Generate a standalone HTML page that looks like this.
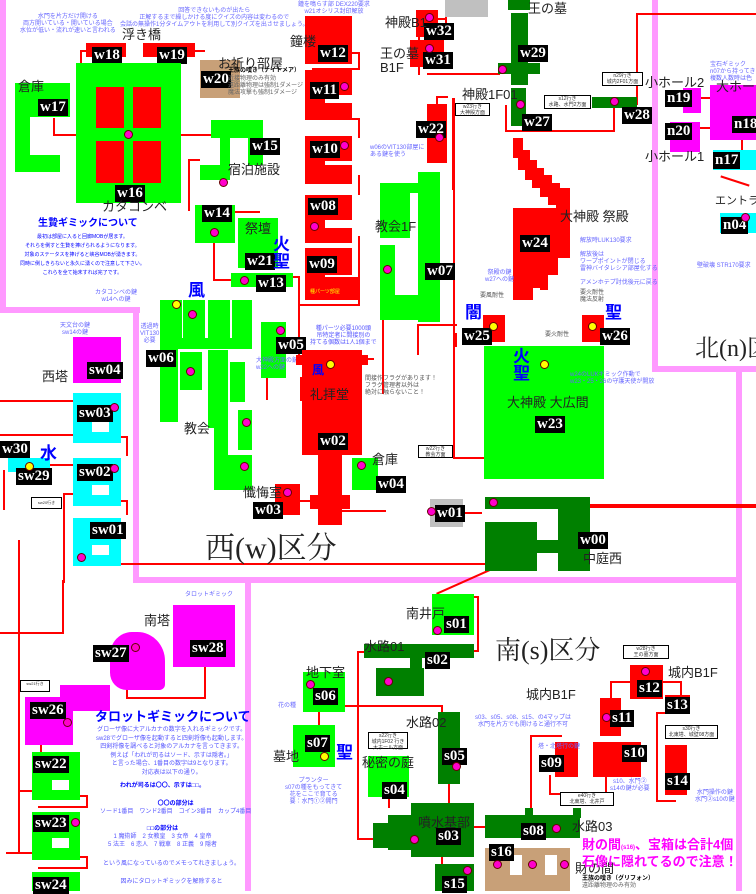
<!DOCTYPE html>
<html><head><meta charset="utf-8"><style>
body{margin:0;width:756px;height:891px;background:#fff;position:relative;overflow:hidden;font-family:"Liberation Sans","Noto Sans CJK JP",sans-serif}
div{position:absolute;box-sizing:border-box}
.r{background:#ff0000}.g{background:#00ff00}.d{background:#008000}.c{background:#00ffff}.m{background:#ff00ff}.t{background:#c8a078}.y{background:#c0c0c0}
.p{background:#ff99ff}
.l{background:#000;color:#fff;font:bold 15px "Liberation Serif",serif;padding:0 2px;line-height:17px;white-space:nowrap}
.h{background:#ff0000}
.k{color:#222;font-size:13px;white-space:nowrap;line-height:14px}
.b{color:#66f;font-size:6px;line-height:7px;white-space:nowrap;text-align:center}
.dot{width:9px;height:9px;border-radius:50%;background:#f0c;border:1px solid #600}
.sg{color:#00f;font-size:17px;font-weight:bold;line-height:17px}
.box{border:1px solid #000;background:#fff;font-size:5px;color:#333;text-align:center;line-height:6px}
</style></head><body>
<!-- pink borders -->
<div class="p" style="left:0;top:0;width:6px;height:310px"></div>
<div class="p" style="left:0;top:307px;width:140px;height:6px"></div>
<div class="p" style="left:133px;top:307px;width:6px;height:276px"></div>
<div class="p" style="left:133px;top:577px;width:608px;height:6px"></div>
<div class="p" style="left:245px;top:580px;width:6px;height:311px"></div>
<div class="p" style="left:652px;top:0;width:6px;height:372px"></div>
<div class="p" style="left:652px;top:366px;width:104px;height:6px"></div>
<div class="p" style="left:736px;top:370px;width:6px;height:521px"></div>

<!-- red connectors -->
<div class="h" style="left:80px;top:50px;width:2px;height:14px"></div>
<div class="h" style="left:80px;top:50px;width:8px;height:2px"></div>
<div class="h" style="left:195px;top:50px;width:10px;height:2px"></div>
<div class="h" style="left:53px;top:134px;width:23px;height:2px"></div>
<div class="h" style="left:53px;top:118px;width:2px;height:18px"></div>
<div class="h" style="left:181px;top:134px;width:30px;height:2px"></div>
<div class="h" style="left:188px;top:159px;width:2px;height:52px"></div>
<div class="h" style="left:188px;top:159px;width:12px;height:2px"></div>
<div class="h" style="left:213px;top:240px;width:2px;height:40px"></div>
<div class="h" style="left:213px;top:279px;width:20px;height:2px"></div>
<div class="h" style="left:235px;top:211px;width:25px;height:2px"></div>
<div class="h" style="left:352px;top:52px;width:8px;height:2px"></div>
<div class="h" style="left:358px;top:52px;width:2px;height:18px"></div>
<div class="h" style="left:312px;top:68px;width:48px;height:2px"></div>
<div class="h" style="left:352px;top:118px;width:8px;height:2px"></div>
<div class="h" style="left:358px;top:118px;width:2px;height:20px"></div>
<div class="h" style="left:358px;top:175px;width:2px;height:20px"></div>
<div class="h" style="left:358px;top:236px;width:2px;height:70px"></div>
<div class="h" style="left:298px;top:276px;width:2px;height:88px"></div>
<div class="h" style="left:292px;top:276px;width:8px;height:2px"></div>
<div class="h" style="left:300px;top:304px;width:60px;height:2px"></div>
<div class="h" style="left:418px;top:17px;width:2px;height:58px"></div>
<div class="h" style="left:427px;top:73px;width:73px;height:2px"></div>
<div class="h" style="left:445px;top:0;width:2px;height:24px"></div>
<div class="h" style="left:437px;top:18px;width:10px;height:2px"></div>
<div class="h" style="left:436px;top:96px;width:2px;height:10px"></div>
<div class="h" style="left:436px;top:96px;width:12px;height:2px"></div>
<div class="h" style="left:452px;top:98px;width:2px;height:80px"></div>
<div class="h" style="left:452px;top:176px;width:2px;height:14px"></div>
<div class="h" style="left:453px;top:98px;width:2px;height:360px"></div>
<div class="h" style="left:453px;top:457px;width:32px;height:2px"></div>
<div class="h" style="left:505px;top:105px;width:2px;height:27px"></div>
<div class="h" style="left:505px;top:130px;width:110px;height:2px"></div>
<div class="h" style="left:613px;top:100px;width:2px;height:32px"></div>
<div class="h" style="left:636px;top:13px;width:2px;height:92px"></div>
<div class="h" style="left:636px;top:13px;width:120px;height:2px"></div>
<div class="h" style="left:417px;top:325px;width:2px;height:30px"></div>
<div class="h" style="left:417px;top:324px;width:40px;height:2px"></div>
<div class="h" style="left:455px;top:333px;width:2px;height:14px"></div>
<div class="h" style="left:382px;top:320px;width:2px;height:74px"></div>
<div class="h" style="left:266px;top:370px;width:2px;height:30px"></div>
<div class="h" style="left:300px;top:377px;width:2px;height:24px"></div>
<div class="h" style="left:362px;top:358px;width:12px;height:2px"></div>
<div class="h" style="left:342px;top:510px;width:44px;height:2px"></div>
<div class="h" style="left:300px;top:500px;width:10px;height:2px"></div>
<div class="h" style="left:460px;top:512px;width:22px;height:2px"></div>
<div class="h" style="left:588px;top:504px;width:168px;height:4px"></div>
<div class="h" style="left:120px;top:563px;width:365px;height:2px"></div>
<div class="h" style="left:0;top:400px;width:73px;height:2px"></div>
<div class="h" style="left:0;top:434px;width:73px;height:2px"></div>
<div class="h" style="left:50px;top:464px;width:23px;height:2px"></div>
<div class="h" style="left:63px;top:493px;width:2px;height:90px"></div>
<div class="h" style="left:63px;top:493px;width:10px;height:2px"></div>
<div class="h" style="left:120px;top:436px;width:8px;height:2px"></div>
<div class="h" style="left:126px;top:436px;width:2px;height:20px"></div>
<div class="h" style="left:120px;top:500px;width:8px;height:2px"></div>
<div class="h" style="left:126px;top:500px;width:2px;height:15px"></div>
<div class="h" style="left:18px;top:540px;width:2px;height:70px"></div>
<div class="h" style="left:3px;top:470px;width:2px;height:40px"></div>
<div class="h" style="left:62px;top:580px;width:2px;height:52px"></div>
<div class="h" style="left:0;top:632px;width:64px;height:2px"></div>
<div class="h" style="left:18px;top:580px;width:2px;height:32px"></div>
<div class="h" style="left:18px;top:580px;width:2px;height:240px"></div>
<div class="h" style="left:6px;top:852px;width:34px;height:2px"></div>
<div class="h" style="left:18px;top:750px;width:2px;height:104px"></div>
<div class="h" style="left:18px;top:790px;width:14px;height:2px"></div>
<div class="h" style="left:126px;top:672px;width:2px;height:25px"></div>
<div class="h" style="left:126px;top:697px;width:80px;height:2px"></div>
<div class="h" style="left:204px;top:667px;width:2px;height:32px"></div>
<div class="h" style="left:40px;top:728px;width:2px;height:24px"></div>
<div class="h" style="left:80px;top:795px;width:8px;height:2px"></div>
<div class="h" style="left:86px;top:795px;width:2px;height:12px"></div>
<div class="h" style="left:38px;top:806px;width:50px;height:2px"></div>
<div class="h" style="left:80px;top:856px;width:8px;height:2px"></div>
<div class="h" style="left:86px;top:856px;width:2px;height:12px"></div>
<div class="h" style="left:38px;top:867px;width:50px;height:2px"></div>
<div class="h" style="left:97px;top:688px;width:8px;height:2px"></div>
<div class="h" style="left:473px;top:596px;width:6px;height:2px"></div>
<div class="h" style="left:477px;top:596px;width:2px;height:56px"></div>
<div class="h" style="left:471px;top:650px;width:8px;height:2px"></div>
<div class="h" style="left:357px;top:651px;width:2px;height:110px"></div>
<div class="h" style="left:357px;top:651px;width:8px;height:2px"></div>
<div class="h" style="left:345px;top:705px;width:98px;height:2px"></div>
<div class="h" style="left:441px;top:705px;width:2px;height:10px"></div>
<div class="h" style="left:357px;top:759px;width:2px;height:20px"></div>
<div class="h" style="left:357px;top:838px;width:22px;height:2px"></div>
<div class="h" style="left:357px;top:760px;width:2px;height:80px"></div>
<div class="h" style="left:318px;top:711px;width:2px;height:14px"></div>
<div class="h" style="left:388px;top:796px;width:2px;height:12px"></div>
<div class="h" style="left:448px;top:782px;width:2px;height:22px"></div>
<div class="h" style="left:473px;top:826px;width:12px;height:2px"></div>
<div class="h" style="left:441px;top:857px;width:2px;height:8px"></div>
<div class="h" style="left:530px;top:735px;width:2px;height:76px"></div>
<div class="h" style="left:530px;top:735px;width:32px;height:2px"></div>
<div class="h" style="left:549px;top:775px;width:2px;height:20px"></div>
<div class="h" style="left:549px;top:793px;width:58px;height:2px"></div>
<div class="h" style="left:605px;top:760px;width:2px;height:35px"></div>
<div class="h" style="left:610px;top:681px;width:2px;height:20px"></div>
<div class="h" style="left:610px;top:681px;width:22px;height:2px"></div>
<div class="h" style="left:660px;top:681px;width:22px;height:2px"></div>
<div class="h" style="left:680px;top:681px;width:2px;height:30px"></div>
<div class="h" style="left:656px;top:712px;width:2px;height:90px"></div>
<div class="h" style="left:656px;top:712px;width:10px;height:2px"></div>
<div class="h" style="left:656px;top:800px;width:20px;height:2px"></div>
<div class="h" style="left:700px;top:97px;width:12px;height:2px"></div>
<div class="h" style="left:700px;top:127px;width:12px;height:2px"></div>
<div class="h" style="left:741px;top:140px;width:2px;height:12px"></div>
<div class="h" style="left:720px;top:180px;width:30px;height:2px;transform:rotate(18deg)"></div>
<div class="h" style="left:434px;top:581px;width:58px;height:2px;transform:rotate(-24deg)"></div>

<!-- West top structures -->
<div class="r" style="left:86px;top:43px;width:40px;height:14px"></div><div class="l" style="left:92px;top:47px">w18</div>
<div class="r" style="left:143px;top:43px;width:52px;height:14px"></div><div class="l" style="left:157px;top:47px">w19</div>
<div class="k" style="left:122px;top:28px;font-size:13px">浮き橋</div>
<div class="g" style="left:76px;top:63px;width:105px;height:140px"></div>
<div class="r" style="left:96px;top:87px;width:28px;height:41px"></div>
<div class="r" style="left:133px;top:87px;width:28px;height:41px"></div>
<div class="r" style="left:96px;top:141px;width:28px;height:42px"></div>
<div class="r" style="left:133px;top:141px;width:28px;height:42px"></div>
<div class="dot" style="left:124px;top:130px"></div>
<div class="l" style="left:115px;top:185px">w16</div>
<div class="k" style="left:102px;top:200px;font-size:13px">カタコンベ</div>
<div class="g" style="left:15px;top:83px;width:55px;height:34px"></div>
<div class="g" style="left:15px;top:83px;width:15px;height:75px"></div>
<div class="g" style="left:15px;top:155px;width:45px;height:17px"></div>
<div class="l" style="left:38px;top:99px">w17</div>
<div class="k" style="left:18px;top:80px;top:80px">倉庫</div>
<div class="t" style="left:200px;top:60px;width:40px;height:38px"></div>
<div class="l" style="left:201px;top:71px">w20</div>
<div class="k" style="left:218px;top:57px">お祈り部屋</div>
<div class="b" style="left:228px;top:68px;color:#000;font-weight:bold;font-size:6px">王族の嘆き（ナイトメア）</div>
<div class="b" style="left:228px;top:76px;color:#666;text-align:left">近接物理のみ有効<br>遠距離物理は強制1ダメージ<br>魔法攻撃も強制1ダメージ</div>
<div class="g" style="left:211px;top:120px;width:52px;height:18px"></div>
<div class="g" style="left:220px;top:120px;width:10px;height:60px"></div>
<div class="g" style="left:248px;top:120px;width:15px;height:45px"></div>
<div class="g" style="left:200px;top:165px;width:30px;height:15px"></div>
<div class="l" style="left:250px;top:138px">w15</div>
<div class="k" style="left:228px;top:163px">宿泊施設</div>
<div class="dot" style="left:219px;top:178px"></div>
<div class="g" style="left:195px;top:205px;width:40px;height:38px"></div>
<div class="l" style="left:202px;top:205px">w14</div>
<div class="dot" style="left:210px;top:228px"></div>
<div class="g" style="left:238px;top:218px;width:40px;height:50px"></div>
<div class="k" style="left:245px;top:222px">祭壇</div>
<div class="l" style="left:245px;top:253px">w21</div>
<div class="sg" style="left:273px;top:236px">火<br>聖</div>
<div class="g" style="left:231px;top:273px;width:62px;height:14px"></div>
<div class="l" style="left:256px;top:275px">w13</div><div class="dot" style="left:240px;top:276px"></div>
<div class="b" style="left:38px;top:220px;color:#00f;font-size:10px;font-weight:bold">生贄ギミックについて</div>
<div class="b" style="left:20px;top:233px;color:#00f;font-size:5px;line-height:9px">最初は部屋に入ると回廊MOBが居ます。<br>それらを倒すと生贄を捧げられるようになります。<br>対象のステータスを捧げると峡谷MOBが湧きます。<br>同時に倒しきらないと永久に湧くので注意して下さい。<br>これらを全て始末すれば完了です。</div>
<div class="b" style="left:20px;top:14px">水門を片方だけ開ける<br>両方開いている・開いている場合<br>水位が低い・流れが速いと言われる</div>
<div class="b" style="left:120px;top:8px">回答できないものが出たら<br>正解するまで繰しかける度にクイズの内容は変わるので<br>会話の無操作1分タイムアウトを利用して別クイズを出させましょう。</div>

<!-- w12..w09 -->
<div class="r" style="left:305px;top:16px;width:47px;height:48px"></div><div class="l" style="left:318px;top:45px">w12</div>
<div class="k" style="left:290px;top:35px">鐘楼</div>
<div class="b" style="left:298px;top:2px">鐘を鳴らす部 DEX220要求<br>w21オシリス封印解放</div>
<div class="r" style="left:305px;top:70px;width:47px;height:25px"></div>
<div class="r" style="left:305px;top:70px;width:20px;height:50px"></div>
<div class="r" style="left:325px;top:103px;width:27px;height:17px"></div>
<div class="l" style="left:310px;top:82px">w11</div><div class="dot" style="left:340px;top:82px"></div>
<div class="r" style="left:305px;top:136px;width:47px;height:25px"></div>
<div class="r" style="left:305px;top:136px;width:20px;height:48px"></div>
<div class="r" style="left:325px;top:165px;width:27px;height:19px"></div>
<div class="l" style="left:310px;top:141px">w10</div><div class="dot" style="left:340px;top:141px"></div>
<div class="r" style="left:305px;top:195px;width:47px;height:25px"></div>
<div class="r" style="left:305px;top:195px;width:20px;height:48px"></div>
<div class="r" style="left:325px;top:228px;width:27px;height:15px"></div>
<div class="l" style="left:308px;top:198px">w08</div><div class="dot" style="left:310px;top:222px"></div>
<div class="r" style="left:305px;top:248px;width:47px;height:27px"></div>
<div class="r" style="left:305px;top:248px;width:20px;height:52px"></div>
<div class="r" style="left:325px;top:277px;width:35px;height:23px"></div>
<div class="l" style="left:307px;top:256px">w09</div>
<div class="b" style="left:310px;top:289px;color:#ff0;font-size:5px">種パーツ部屋</div>

<!-- w32 w31 w29 w27 w28 -->
<div class="y" style="left:445px;top:0;width:43px;height:17px"></div>
<div class="r" style="left:416px;top:10px;width:22px;height:27px"></div><div class="l" style="left:424px;top:23px">w32</div>
<div class="dot" style="left:425px;top:13px"></div>
<div class="k" style="left:385px;top:16px">神殿B1</div>
<div class="r" style="left:410px;top:40px;width:34px;height:27px"></div><div class="l" style="left:423px;top:52px">w31</div>
<div class="dot" style="left:425px;top:44px"></div>
<div class="k" style="left:380px;top:47px">王の墓<br>B1F</div>
<div class="d" style="left:508px;top:0;width:22px;height:10px"></div>
<div class="d" style="left:511px;top:13px;width:17px;height:72px"></div>
<div class="d" style="left:498px;top:63px;width:42px;height:11px"></div>
<div class="l" style="left:518px;top:45px">w29</div>
<div class="k" style="left:528px;top:2px">王の墓</div>
<div class="dot" style="left:498px;top:65px"></div>
<div class="d" style="left:511px;top:88px;width:15px;height:38px"></div>
<div class="l" style="left:522px;top:114px">w27</div>
<div class="k" style="left:462px;top:88px">神殿1F01</div>
<div class="dot" style="left:516px;top:100px"></div>
<div class="d" style="left:592px;top:97px;width:45px;height:11px"></div>
<div class="dot" style="left:610px;top:97px"></div>
<div class="l" style="left:622px;top:107px">w28</div>
<div class="box" style="left:602px;top:72px;width:41px;height:14px">n29行き<br>城内2F01方面</div>
<div class="box" style="left:544px;top:95px;width:47px;height:14px">s12行き<br>水路、水門2方面</div>
<div class="box" style="left:455px;top:103px;width:35px;height:13px">w23行き<br>大神殿方面</div>
<div class="r" style="left:427px;top:104px;width:20px;height:59px"></div>
<div class="l" style="left:416px;top:121px">w22</div><div class="dot" style="left:435px;top:133px"></div>
<div class="g" style="left:418px;top:172px;width:22px;height:150px"></div>
<div class="g" style="left:380px;top:183px;width:60px;height:10px"></div>
<div class="g" style="left:380px;top:183px;width:30px;height:55px"></div>
<div class="g" style="left:380px;top:245px;width:15px;height:75px"></div>
<div class="g" style="left:380px;top:295px;width:60px;height:25px"></div>
<div class="k" style="left:375px;top:220px">教会1F</div>
<div class="l" style="left:425px;top:263px">w07</div><div class="dot" style="left:383px;top:265px"></div>
<div class="b" style="left:370px;top:145px;text-align:left">w06のVIT130部屋に<br>ある鍵を使う</div>

<!-- w24 staircase -->
<div class="r" style="left:513px;top:138px;width:10px;height:20px"></div>
<div class="r" style="left:518px;top:150px;width:12px;height:20px"></div>
<div class="r" style="left:525px;top:160px;width:12px;height:20px"></div>
<div class="r" style="left:532px;top:168px;width:12px;height:20px"></div>
<div class="r" style="left:540px;top:175px;width:12px;height:22px"></div>
<div class="r" style="left:548px;top:183px;width:12px;height:22px"></div>
<div class="r" style="left:556px;top:188px;width:14px;height:25px"></div>
<div class="r" style="left:513px;top:208px;width:57px;height:50px"></div>
<div class="r" style="left:513px;top:255px;width:45px;height:20px"></div>
<div class="r" style="left:513px;top:270px;width:30px;height:18px"></div>
<div class="r" style="left:513px;top:280px;width:20px;height:20px"></div>
<div class="r" style="left:540px;top:260px;width:8px;height:30px"></div>
<div class="l" style="left:520px;top:235px">w24</div>
<div class="k" style="left:560px;top:210px">大神殿 祭殿</div>
<div class="b" style="left:580px;top:238px;text-align:left">解放時LUK130要求<br><br>解放後は<br>ワープポイントが閉じる<br>雷神バイタレシア部屋化する<br><br>アメンホテプ討伐後元に戻る</div>
<div class="b" style="left:485px;top:270px">祭殿の鍵<br>w27への鍵</div>
<div class="r" style="left:483px;top:315px;width:22px;height:27px"></div>
<div class="l" style="left:462px;top:328px">w25</div>
<div class="sg" style="left:465px;top:304px">闇</div>
<div class="dot" style="left:489px;top:322px;background:#ff0"></div>
<div class="r" style="left:582px;top:315px;width:22px;height:27px"></div>
<div class="l" style="left:600px;top:328px">w26</div>
<div class="sg" style="left:605px;top:304px">聖</div>
<div class="dot" style="left:588px;top:322px;background:#ff0"></div>
<div class="b" style="left:480px;top:293px;color:#555">要風耐性</div>
<div class="b" style="left:580px;top:290px;color:#555">要火耐性<br>魔法反射</div>
<div class="b" style="left:545px;top:332px;color:#555">要火耐性</div>
<div class="g" style="left:484px;top:346px;width:120px;height:133px"></div>
<div class="sg" style="left:513px;top:348px">火<br>聖</div>
<div class="dot" style="left:540px;top:360px;background:#ff0"></div>
<div class="k" style="left:507px;top:396px">大神殿 大広間</div>
<div class="l" style="left:535px;top:416px">w23</div>
<div class="b" style="left:570px;top:372px;text-align:left">w24のLUKギミック作動で<br>w23・25・26の守護天使が開放</div>
<div class="box" style="left:418px;top:445px;width:35px;height:13px">w22行き<br>教会方面</div>

<!-- w06 church -->
<div class="g" style="left:160px;top:300px;width:22px;height:42px"></div>
<div class="g" style="left:183px;top:300px;width:22px;height:38px"></div>
<div class="g" style="left:208px;top:300px;width:22px;height:38px"></div>
<div class="g" style="left:232px;top:300px;width:20px;height:38px"></div>
<div class="g" style="left:160px;top:338px;width:92px;height:11px"></div>
<div class="g" style="left:160px;top:340px;width:18px;height:82px"></div>
<div class="g" style="left:180px;top:352px;width:22px;height:38px"></div>
<div class="g" style="left:208px;top:350px;width:20px;height:78px"></div>
<div class="g" style="left:214px;top:405px;width:14px;height:85px"></div>
<div class="g" style="left:230px;top:362px;width:15px;height:40px"></div>
<div class="g" style="left:238px;top:410px;width:14px;height:40px"></div>
<div class="g" style="left:214px;top:455px;width:38px;height:35px"></div>
<div class="l" style="left:146px;top:350px">w06</div>
<div class="k" style="left:184px;top:422px">教会</div>
<div class="dot" style="left:188px;top:310px"></div><div class="dot" style="left:186px;top:367px"></div>
<div class="dot" style="left:242px;top:418px"></div><div class="dot" style="left:240px;top:462px"></div>
<div class="sg" style="left:188px;top:282px">風</div>
<div class="dot" style="left:172px;top:300px;background:#ff0"></div>
<div class="g" style="left:261px;top:322px;width:25px;height:56px"></div>
<div class="l" style="left:276px;top:337px">w05</div><div class="dot" style="left:276px;top:326px"></div>
<div class="b" style="left:95px;top:290px">カタコンベの鍵<br>w14への鍵</div>
<div class="b" style="left:140px;top:324px">透過時<br>VIT130<br>必要</div>
<div class="b" style="left:256px;top:358px;text-align:left">大神殿方面の鍵<br>w22への鍵</div>

<!-- w02 -->
<div class="r" style="left:302px;top:350px;width:60px;height:105px"></div>
<div class="r" style="left:296px;top:355px;width:72px;height:10px"></div>
<div class="r" style="left:318px;top:450px;width:24px;height:75px"></div>
<div class="r" style="left:310px;top:495px;width:40px;height:14px"></div>
<div class="k" style="left:310px;top:388px">礼拝堂</div>
<div class="l" style="left:318px;top:433px">w02</div>
<div class="dot" style="left:326px;top:360px;background:#ff0"></div>
<div class="sg" style="left:312px;top:362px;font-size:12px">風</div>
<div class="b" style="left:365px;top:376px;color:#555;text-align:left">間接作フラグがあります！<br>フラグ管理者以外は<br>絶対に触らないこと！</div>
<div class="b" style="left:310px;top:326px;color:#55f">種パーツ必要1000頭<br>吊特定者に間接別の<br>持てる個数は1人1個まで</div>
<div class="r" style="left:275px;top:484px;width:25px;height:31px"></div>
<div class="l" style="left:253px;top:502px">w03</div>
<div class="k" style="left:243px;top:486px">懺悔室</div><div class="dot" style="left:283px;top:488px"></div>
<div class="g" style="left:352px;top:458px;width:26px;height:32px"></div>
<div class="l" style="left:376px;top:476px">w04</div>
<div class="k" style="left:372px;top:453px">倉庫</div><div class="dot" style="left:357px;top:461px"></div>
<div class="k" style="left:205px;top:523px;font:30px 'Liberation Serif','Noto Serif CJK SC',serif;color:#222">西(w)区分</div>

<!-- w01 w00 -->
<div class="y" style="left:430px;top:499px;width:33px;height:28px"></div>
<div class="l" style="left:435px;top:505px">w01</div><div class="dot" style="left:427px;top:507px"></div>
<div class="d" style="left:485px;top:497px;width:105px;height:12px"></div>
<div class="d" style="left:558px;top:497px;width:32px;height:74px"></div>
<div class="d" style="left:485px;top:522px;width:52px;height:49px"></div>
<div class="d" style="left:535px;top:540px;width:25px;height:13px"></div>
<div class="dot" style="left:489px;top:498px"></div>
<div class="l" style="left:578px;top:532px">w00</div>
<div class="k" style="left:583px;top:552px">中庭西</div>

<!-- North -->
<div class="m" style="left:683px;top:88px;width:18px;height:25px"></div>
<div class="l" style="left:665px;top:90px">n19</div>
<div class="k" style="left:645px;top:76px">小ホール2</div>
<div class="m" style="left:670px;top:122px;width:30px;height:30px"></div>
<div class="l" style="left:665px;top:123px">n20</div>
<div class="k" style="left:645px;top:150px">小ホール1</div>
<div class="m" style="left:710px;top:85px;width:46px;height:55px"></div>
<div class="k" style="left:716px;top:80px">大ホー</div>
<div class="l" style="left:732px;top:116px">n18</div>
<div class="c" style="left:713px;top:150px;width:43px;height:20px"></div>
<div class="l" style="left:713px;top:152px">n17</div>
<div class="k" style="left:715px;top:194px;font-size:11px">エントランス</div>
<div class="c" style="left:720px;top:213px;width:36px;height:20px"></div>
<div class="l" style="left:721px;top:217px">n04</div><div class="dot" style="left:741px;top:213px"></div>
<div class="b" style="left:710px;top:62px;text-align:left">宝石ギミック<br>n07から持ってき<br>複数人数時は色</div>
<div class="b" style="left:697px;top:263px">壁破壊 STR170要求</div>
<div class="k" style="left:695px;top:328px;font:24px 'Liberation Serif','Noto Serif CJK SC',serif;color:#222">北(n)区</div>

<!-- SW -->
<div class="m" style="left:73px;top:337px;width:48px;height:46px"></div>
<div class="l" style="left:87px;top:362px">sw04</div>
<div class="k" style="left:42px;top:370px">西塔</div>
<div class="b" style="left:60px;top:323px">天文台の鍵<br>sw14の鍵</div>
<div class="c" style="left:73px;top:393px;width:48px;height:50px"></div>
<div style="left:92px;top:422px;width:17px;height:10px;background:#fff"></div>
<div class="l" style="left:77px;top:405px">sw03</div><div class="dot" style="left:110px;top:403px"></div>
<div class="c" style="left:73px;top:458px;width:48px;height:48px"></div>
<div style="left:92px;top:485px;width:17px;height:10px;background:#fff"></div>
<div class="l" style="left:77px;top:464px">sw02</div><div class="dot" style="left:110px;top:464px"></div>
<div class="c" style="left:73px;top:518px;width:48px;height:48px"></div>
<div style="left:92px;top:545px;width:17px;height:10px;background:#fff"></div>
<div class="l" style="left:90px;top:522px">sw01</div><div class="dot" style="left:77px;top:553px"></div>
<div class="c" style="left:8px;top:458px;width:42px;height:14px"></div>
<div class="l" style="left:16px;top:468px">sw29</div>
<div class="l" style="left:0;top:441px">w30</div>
<div class="sg" style="left:40px;top:445px">水</div>
<div class="dot" style="left:25px;top:462px;background:#ff0"></div>
<div class="box" style="left:31px;top:497px;width:31px;height:12px;font-size:4px;line-height:10px">sw20行き</div>

<div class="m" style="left:173px;top:605px;width:62px;height:62px"></div>
<div class="l" style="left:190px;top:640px">sw28</div>
<div class="b" style="left:185px;top:592px">タロットギミック</div>
<div class="m" style="left:110px;top:632px;width:55px;height:58px;border-radius:40% 50% 10% 30%"></div>
<div class="m" style="left:60px;top:685px;width:50px;height:26px"></div>
<div class="l" style="left:93px;top:645px">sw27</div><div class="dot" style="left:131px;top:643px"></div>
<div class="k" style="left:144px;top:614px">南塔</div>
<div class="m" style="left:25px;top:697px;width:48px;height:48px"></div>
<div class="l" style="left:30px;top:702px">sw26</div><div class="dot" style="left:63px;top:718px"></div>
<div class="box" style="left:20px;top:680px;width:30px;height:12px;font-size:4px">sw21行き</div>
<div class="g" style="left:32px;top:752px;width:48px;height:48px"></div>
<div style="left:52px;top:780px;width:17px;height:10px;background:#fff"></div>
<div class="l" style="left:33px;top:756px">sw22</div>
<div class="g" style="left:32px;top:812px;width:48px;height:48px"></div>
<div style="left:52px;top:838px;width:17px;height:10px;background:#fff"></div>
<div class="l" style="left:33px;top:815px">sw23</div><div class="dot" style="left:71px;top:818px"></div>
<div class="g" style="left:32px;top:872px;width:48px;height:19px"></div>
<div class="l" style="left:33px;top:877px">sw24</div>
<div class="b" style="left:95px;top:710px;color:#00f;font-size:13px;font-weight:bold;line-height:14px">タロットギミックについて</div>
<div class="b" style="left:96px;top:726px;font-size:6px;line-height:8.5px;color:#55f">グローザ像に大アルカナの数字を入れるギミックです。<br>sw28でグローザ像を起動すると四剣将像も起動します。<br>四剣将像を調べると対象のアルカナを言ってきます。<br>例えば「われが司るはソード、示すは隠者。」<br>と言った場合、1番目の数字は9となります。<br>対応表は以下の通り。</div>
<div class="b" style="left:120px;top:783px;color:#00f;font-weight:bold">われが司るは〇〇、示すは□□。</div>
<div class="b" style="left:100px;top:800px;font-size:6px;line-height:8px;color:#55f"><b style="color:#00f">〇〇の部分は</b><br>ソード1番目　ワンド2番目　コイン3番目　カップ4番目</div>
<div class="b" style="left:108px;top:825px;font-size:6px;line-height:8px;color:#55f"><b style="color:#00f">□□の部分は</b><br>1 魔術師　2 女教皇　3 女帝　4 皇帝<br>5 法王　6 恋人　7 戦車　8 正義　9 隠者</div>
<div class="b" style="left:103px;top:860px;font-size:6px;line-height:9px;color:#55f">という風になっているのでメモってれきましょう。<br><br>因みにタロットギミックを解除すると</div>

<!-- South -->
<div class="g" style="left:432px;top:594px;width:42px;height:41px"></div>
<div class="l" style="left:444px;top:616px">s01</div><div class="dot" style="left:433px;top:626px"></div>
<div class="k" style="left:406px;top:607px">南井戸</div>
<div class="d" style="left:364px;top:644px;width:110px;height:14px"></div>
<div class="d" style="left:410px;top:656px;width:12px;height:40px"></div>
<div class="d" style="left:376px;top:668px;width:48px;height:28px"></div>
<div class="l" style="left:425px;top:652px">s02</div><div class="dot" style="left:384px;top:677px"></div>
<div class="k" style="left:364px;top:640px">水路01</div>
<div class="k" style="left:495px;top:630px;font:26px 'Liberation Serif','Noto Serif CJK SC',serif;color:#222">南(s)区分</div>
<div class="g" style="left:303px;top:672px;width:42px;height:40px"></div>
<div class="l" style="left:313px;top:688px">s06</div><div class="dot" style="left:306px;top:680px"></div>
<div class="k" style="left:306px;top:666px">地下室</div>
<div class="g" style="left:293px;top:725px;width:42px;height:42px"></div>
<div class="l" style="left:305px;top:735px">s07</div>
<div class="k" style="left:273px;top:750px">墓地</div>
<div class="sg" style="left:336px;top:744px">聖</div>
<div class="dot" style="left:320px;top:752px;background:#ff0"></div>
<div class="b" style="left:278px;top:703px">花の種</div>
<div class="g" style="left:368px;top:756px;width:41px;height:41px"></div>
<div class="l" style="left:382px;top:782px">s04</div>
<div class="k" style="left:362px;top:756px">秘密の庭</div>
<div class="box" style="left:368px;top:732px;width:40px;height:17px">s22行き<br>城内1F02 行き<br>大ホール方面</div>
<div class="b" style="left:285px;top:778px">プランター<br>s07の種をもってきて<br>花をここで育てる<br>要：水門①②開門</div>
<div class="d" style="left:438px;top:712px;width:22px;height:72px"></div>
<div class="l" style="left:442px;top:748px">s05</div><div class="dot" style="left:452px;top:762px"></div>
<div class="k" style="left:406px;top:716px">水路02</div>
<div class="d" style="left:411px;top:803px;width:63px;height:54px"></div>
<div class="d" style="left:388px;top:815px;width:30px;height:35px"></div>
<div class="d" style="left:373px;top:823px;width:20px;height:25px"></div>
<div class="l" style="left:436px;top:828px">s03</div><div class="dot" style="left:410px;top:835px"></div>
<div class="k" style="left:418px;top:816px">噴水基部</div>
<div class="d" style="left:435px;top:864px;width:39px;height:27px"></div>
<div class="l" style="left:442px;top:876px">s15</div><div class="dot" style="left:463px;top:866px"></div>
<div class="d" style="left:485px;top:815px;width:95px;height:23px"></div>
<div class="d" style="left:525px;top:808px;width:8px;height:10px"></div>
<div class="d" style="left:573px;top:808px;width:8px;height:10px"></div>
<div class="l" style="left:521px;top:823px">s08</div><div class="dot" style="left:552px;top:824px"></div>
<div class="k" style="left:572px;top:820px">水路03</div>
<div class="t" style="left:485px;top:848px;width:85px;height:43px"></div>
<div style="left:510px;top:855px;width:12px;height:20px;background:#fff"></div>
<div style="left:545px;top:855px;width:12px;height:20px;background:#fff"></div>
<div class="l" style="left:489px;top:844px">s16</div>
<div class="dot" style="left:493px;top:860px"></div><div class="dot" style="left:528px;top:860px"></div><div class="dot" style="left:560px;top:860px"></div>
<div class="k" style="left:575px;top:862px">財の間</div>
<div class="b" style="left:582px;top:876px;color:#000;font-weight:bold;text-align:left">王族の嘆き（グリフォン）<br><span style="color:#666;font-weight:normal">遠距離物理のみ有効</span></div>
<div class="b" style="left:582px;top:838px;color:#f0f;font-size:13px;line-height:14px;font-weight:bold;text-align:left">財の間<span style="font-size:6px">(s16)</span>、宝箱は合計4個<br>石像に隠れてるので注意！</div>
<div class="k" style="left:526px;top:688px">城内B1F</div>
<div class="b" style="left:475px;top:715px">s03、s05、s08、s15、の4マップは<br>水門を片方でも開けると通行不可</div>
<div class="r" style="left:555px;top:742px;width:23px;height:35px"></div>
<div class="l" style="left:539px;top:755px">s09</div>
<div class="b" style="left:538px;top:744px">塔・北塔行の鍵</div>
<div class="r" style="left:593px;top:742px;width:48px;height:35px"></div>
<div class="l" style="left:622px;top:745px">s10</div>
<div class="r" style="left:600px;top:698px;width:21px;height:38px"></div>
<div class="l" style="left:610px;top:710px">s11</div><div class="dot" style="left:602px;top:713px"></div>
<div class="r" style="left:630px;top:665px;width:33px;height:34px"></div>
<div class="l" style="left:637px;top:680px">s12</div><div class="dot" style="left:641px;top:667px"></div>
<div class="k" style="left:668px;top:666px">城内B1F</div>
<div class="box" style="left:623px;top:645px;width:46px;height:14px">w28行き<br>王の墓方面</div>
<div class="r" style="left:665px;top:695px;width:25px;height:18px"></div>
<div class="l" style="left:665px;top:697px">s13</div>
<div class="box" style="left:665px;top:725px;width:53px;height:14px">s30行き<br>北東塔、城壁08方面</div>
<div class="r" style="left:665px;top:745px;width:22px;height:50px"></div>
<div class="l" style="left:665px;top:773px">s14</div>
<div class="b" style="left:695px;top:790px">水門操作の鍵<br>水門②s10の鍵</div>
<div class="b" style="left:610px;top:779px">s10、水門②<br>s14の鍵が必要</div>
<div class="box" style="left:560px;top:792px;width:54px;height:14px">e40行き<br>北東塔、北井戸</div>
</body></html>
